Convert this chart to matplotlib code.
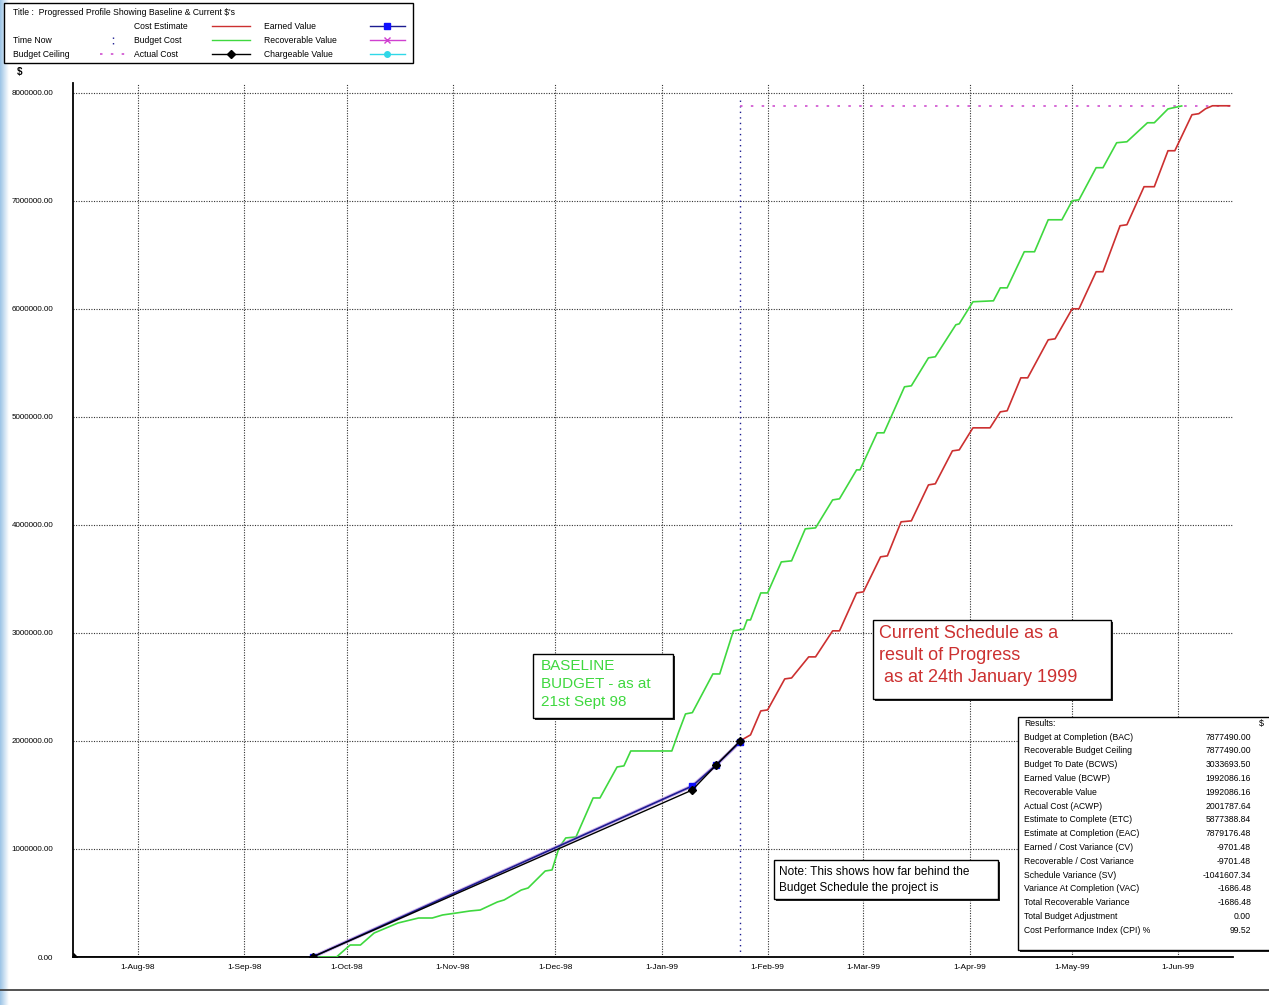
import numpy as np
import pandas as pd
import matplotlib
matplotlib.use("Agg")
import matplotlib.pyplot as plt
from matplotlib.patches import Rectangle

plt.rcParams['font.family'] = ['Liberation Sans', 'DejaVu Sans']

# baseline budget (BCWS), $k
budget_dates = ['1998-09-21', '1998-09-28', '1998-10-02', '1998-10-05', '1998-10-09', '1998-10-16',
                '1998-10-22', '1998-10-26', '1998-10-29', '1998-11-02', '1998-11-06', '1998-11-09',
                '1998-11-14', '1998-11-16', '1998-11-21', '1998-11-23', '1998-11-28', '1998-11-30',
                '1998-12-02', '1998-12-04', '1998-12-07', '1998-12-12', '1998-12-14', '1998-12-19',
                '1998-12-21', '1998-12-23', '1999-01-04', '1999-01-06', '1999-01-08', '1999-01-10',
                '1999-01-16', '1999-01-18', '1999-01-22', '1999-01-25', '1999-01-26', '1999-01-27',
                '1999-01-30', '1999-02-01', '1999-02-05', '1999-02-08', '1999-02-12', '1999-02-15',
                '1999-02-20', '1999-02-22', '1999-02-27', '1999-02-28', '1999-03-05', '1999-03-07',
                '1999-03-13', '1999-03-15', '1999-03-20', '1999-03-22', '1999-03-28', '1999-03-29',
                '1999-04-02', '1999-04-08', '1999-04-10', '1999-04-12', '1999-04-17', '1999-04-20',
                '1999-04-24', '1999-04-28', '1999-05-01', '1999-05-03', '1999-05-08', '1999-05-10',
                '1999-05-14', '1999-05-17', '1999-05-23', '1999-05-25', '1999-05-29', '1999-06-02']
budget_k = [0, 0, 111, 111, 222, 315, 361, 361, 389, 407, 426, 435, 509, 528, 620, 639, 796, 806,
            1009, 1102, 1111, 1472, 1472, 1759, 1769, 1907, 1907, 2083, 2250, 2262, 2620, 2620,
            3020, 3034, 3120, 3120, 3370, 3370, 3657, 3667, 3963, 3972, 4231, 4241, 4509, 4509,
            4852, 4852, 5278, 5287, 5546, 5556, 5852, 5861, 6065, 6074, 6194, 6194, 6528, 6528,
            6824, 6824, 7000, 7009, 7306, 7306, 7537, 7546, 7722, 7722, 7850, 7877.49]

# re-forecast cost estimate from time now, $k
estimate_dates = ['1999-01-24', '1999-01-27', '1999-01-30', '1999-02-01', '1999-02-06', '1999-02-08',
                  '1999-02-13', '1999-02-15', '1999-02-20', '1999-02-22', '1999-02-27', '1999-03-01',
                  '1999-03-06', '1999-03-08', '1999-03-12', '1999-03-15', '1999-03-20', '1999-03-22',
                  '1999-03-27', '1999-03-29', '1999-04-02', '1999-04-07', '1999-04-10', '1999-04-12',
                  '1999-04-16', '1999-04-18', '1999-04-24', '1999-04-26', '1999-05-01', '1999-05-03',
                  '1999-05-08', '1999-05-10', '1999-05-15', '1999-05-17', '1999-05-22', '1999-05-25',
                  '1999-05-29', '1999-05-31', '1999-06-05', '1999-06-07', '1999-06-09', '1999-06-11',
                  '1999-06-16']
estimate_k = [2001.79, 2056, 2278, 2287, 2574, 2583, 2778, 2778, 3019, 3019, 3370, 3380, 3704, 3713,
              4028, 4037, 4370, 4380, 4685, 4694, 4898, 4898, 5046, 5056, 5361, 5361, 5713, 5722,
              6000, 6000, 6343, 6343, 6769, 6778, 7130, 7130, 7463, 7463, 7796, 7806, 7852,
              7879.18, 7879.18]

actual_dates = ['1998-07-13', '1998-09-21', '1999-01-10', '1999-01-17', '1999-01-24']
actual_k = [0, 0, 1546, 1778, 2001.79]

earned_dates = ['1998-09-21', '1999-01-10', '1999-01-17', '1999-01-24']
earned_k = [0, 1583, 1778, 1992.09]

time_now = '1999-01-24'
budget_ceiling = 7877490.00

month_ticks = ['1998-08-01', '1998-09-01', '1998-10-01', '1998-11-01', '1998-12-01', '1999-01-01',
               '1999-02-01', '1999-03-01', '1999-04-01', '1999-05-01', '1999-06-01']

results_labels = ['Budget at Completion (BAC)', 'Recoverable Budget Ceiling', 'Budget To Date (BCWS)',
                  'Earned Value (BCWP)', 'Recoverable Value', 'Actual Cost (ACWP)',
                  'Estimate to Complete (ETC)', 'Estimate at Completion (EAC)',
                  'Earned / Cost Variance (CV)', 'Recoverable / Cost Variance', 'Schedule Variance (SV)',
                  'Variance At Completion (VAC)', 'Total Recoverable Variance', 'Total Budget Adjustment',
                  'Cost Performance Index (CPI) %']
results_values = ['7877490.00', '7877490.00', '3033693.50', '1992086.16', '1992086.16', '2001787.64',
                  '5877388.84', '7879176.48', '-9701.48', '-9701.48', '-1041607.34', '-1686.48',
                  '-1686.48', '0.00', '99.52']

RED = '#cc3030'
GREEN = '#3fd83f'
NAVY = '#1c1c90'
PINK = '#d050d0'

W, H = 1269, 1005
fig = plt.figure(figsize=(W / 100, H / 100), dpi=100)

# pale blue edge strip behind everything
bg = fig.add_axes([0, 0, 1, 1], zorder=-1)
bg.set_xlim(0, W)
bg.set_ylim(H, 0)
bg.axis('off')
grad = np.linspace(0, 1, 40).reshape(1, -1)
bg.imshow(grad, cmap=matplotlib.colors.LinearSegmentedColormap.from_list('edge', ['#9cc4e6', '#ffffff']),
          extent=[0, 9, H, 0], aspect='auto')

ax = fig.add_axes([73 / W, 1 - 957 / H, (1233 - 73) / W, (957 - 83) / H])
ax.patch.set_alpha(0)

d = lambda lst: pd.to_datetime(lst)
k = lambda lst: np.array(lst) * 1000

ax.plot(d(budget_dates), k(budget_k), color=GREEN, lw=1.2, zorder=3)
ax.plot(d(estimate_dates), k(estimate_k), color=RED, lw=1.2, zorder=3)
ax.plot(d(earned_dates), k(earned_k), color='#b080e0', lw=2.6, alpha=0.6, zorder=3)
ax.plot(d(earned_dates), k(earned_k), color=NAVY, lw=1.2, marker='s', ms=4.5,
        mfc='#1010ff', mec='#1010ff', zorder=4)
ax.plot(d(actual_dates), k(actual_k), color='black', lw=1.0, marker='D', ms=4.5, zorder=5)

tn = pd.to_datetime(time_now)
ax.plot([tn, tn], [0, 7.96e6], color=NAVY, lw=1.0, ls=(0, (1, 3)), zorder=2)
ax.plot([tn, pd.to_datetime('1999-06-17')], [budget_ceiling] * 2, color=PINK, lw=1.2,
        ls=(0, (1.5, 5)), zorder=2)

ax.set_xlim(pd.to_datetime('1998-07-13'), pd.to_datetime('1999-06-17'))
ax.set_ylim(0, 8.09e6)
yt = np.arange(0, 8000001, 1000000)
ax.set_yticks(yt)
ax.set_yticklabels([f'{v:.2f}' for v in yt], fontsize=5.8)
xt = pd.to_datetime(month_ticks)
ax.set_xticks(xt)
ax.set_xticklabels([f"1-{t.strftime('%b-%y')}" for t in xt], fontsize=6)
ax.tick_params(axis='both', length=0)
ax.tick_params(axis='x', pad=5)
ax.tick_params(axis='y', pad=14)
ax.grid(True, color='#333333', lw=0.8, ls=(0, (1, 1.3)))
ax.set_axisbelow(True)
for s in ['top', 'right']:
    ax.spines[s].set_visible(False)
for s in ['left', 'bottom']:
    ax.spines[s].set_linewidth(1.3)

# overlay in pixel units for the frame, legend and text boxes
ov = fig.add_axes([0, 0, 1, 1], zorder=5)
ov.set_xlim(0, W)
ov.set_ylim(H, 0)
ov.axis('off')
ov.patch.set_alpha(0)

ov.plot([0, W], [990, 990], color='#444444', lw=1.3)
ov.text(17, 72, '$', fontsize=7, fontweight='bold', va='center')


def box(x0, y0, x1, y1, shadow=2):
    if shadow:
        ov.add_patch(Rectangle((x0 + shadow, y0 + shadow), x1 - x0, y1 - y0, fc='#222222', ec='none', zorder=6))
    ov.add_patch(Rectangle((x0, y0), x1 - x0, y1 - y0, fc='white', ec='black', lw=1.0, zorder=7))


# legend
box(4, 3, 413, 63, shadow=0)
fs = 6.2
ov.text(13, 12, "Title :  Progressed Profile Showing Baseline & Current $'s", fontsize=fs, va='center', zorder=8)
ov.text(134, 26, 'Cost Estimate', fontsize=fs, va='center', zorder=8)
ov.plot([212, 250], [26, 26], color=RED, lw=1.0, zorder=8)
ov.text(264, 26, 'Earned Value', fontsize=fs, va='center', zorder=8)
ov.plot([370, 405], [26, 26], color=NAVY, lw=1.0, zorder=8)
ov.plot([387], [26], marker='s', ms=4, color='#1010ff', zorder=9)
ov.text(13, 40, 'Time Now', fontsize=fs, va='center', zorder=8)
ov.plot([113, 113], [37, 45], color=NAVY, lw=1.0, ls=(0, (1, 3)), zorder=8)
ov.text(134, 40, 'Budget Cost', fontsize=fs, va='center', zorder=8)
ov.plot([212, 250], [40, 40], color=GREEN, lw=1.0, zorder=8)
ov.text(264, 40, 'Recoverable Value', fontsize=fs, va='center', zorder=8)
ov.plot([370, 405], [40, 40], color='#d040d0', lw=1.0, zorder=8)
ov.plot([387], [40], marker='x', ms=4, color='#d040d0', zorder=9)
ov.text(13, 54, 'Budget Ceiling', fontsize=fs, va='center', zorder=8)
ov.plot([100, 125], [54, 54], color=PINK, lw=1.2, ls=(0, (1.5, 5)), zorder=8)
ov.text(134, 54, 'Actual Cost', fontsize=fs, va='center', zorder=8)
ov.plot([212, 250], [54, 54], color='black', lw=1.0, zorder=8)
ov.plot([231], [54], marker='D', ms=4, color='black', zorder=9)
ov.text(264, 54, 'Chargeable Value', fontsize=fs, va='center', zorder=8)
ov.plot([370, 405], [54, 54], color='#30d8e8', lw=1.0, zorder=8)
ov.plot([387], [54], marker='o', ms=4, color='#30d8e8', zorder=9)

# annotations
box(533, 654, 673, 718)
ov.text(541, 659, 'BASELINE\nBUDGET - as at\n21st Sept 98', color=GREEN, fontsize=11, va='top',
        linespacing=1.38, zorder=8)
box(873, 620, 1111, 699)
ov.text(879, 625, 'Current Schedule as a\nresult of Progress\n as at 24th January 1999', color=RED,
        fontsize=13, va='top', linespacing=1.38, zorder=8)
box(774, 860, 998, 899)
ov.text(779, 866, 'Note: This shows how far behind the\nBudget Schedule the project is', color='black',
        fontsize=8.5, va='top', linespacing=1.45, zorder=8)

# results panel
box(1018, 717, 1272, 950)
ov.text(1024, 723, 'Results:', fontsize=6.2, va='center', zorder=8)
ov.text(1264, 723, '$', fontsize=6.5, va='center', ha='right', zorder=8)
for i, (lab, val) in enumerate(zip(results_labels, results_values)):
    y = 737 + i * 13.8
    ov.text(1024, y, lab, fontsize=6.2, va='center', zorder=8)
    ov.text(1251, y, val, fontsize=6.2, va='center', ha='right', zorder=8)

fig.savefig('out.png', dpi=100)
